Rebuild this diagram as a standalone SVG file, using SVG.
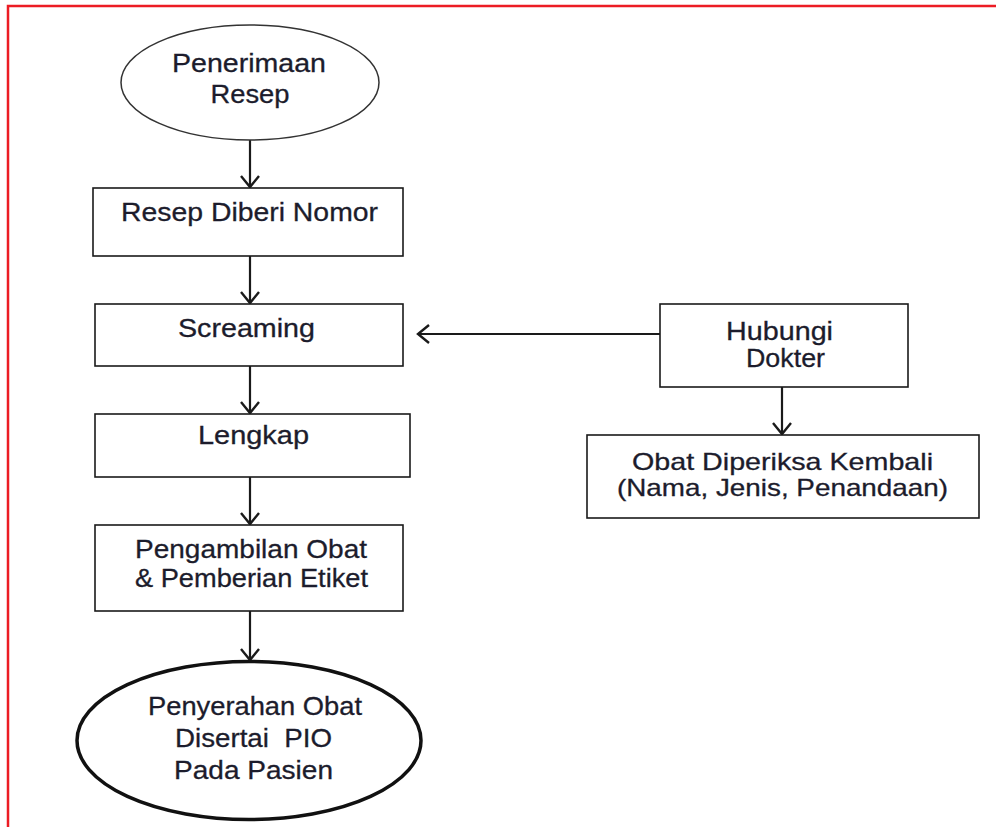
<svg xmlns="http://www.w3.org/2000/svg" width="996" height="827" viewBox="0 0 996 827">
<defs>
<marker id="arr" viewBox="0 0 14 20" refX="12" refY="10" markerWidth="14" markerHeight="20" markerUnits="userSpaceOnUse" orient="auto">
<path d="M1,1 L12,10 L1,19" fill="none" stroke="#1a1a1a" stroke-width="2.4"/>
</marker>
</defs>
<style>
.box{fill:#fff;stroke:#1a1a1a;stroke-width:1.6}
.t{font-family:"Liberation Sans",Arial,sans-serif;font-size:26px;fill:#1c1c2c;stroke:#1c1c2c;stroke-width:0.3;text-anchor:middle}
.s{font-size:24px}
.c{fill:none;stroke:#1a1a1a;stroke-width:2.2;marker-end:url(#arr)}
</style>
<rect x="0" y="0" width="996" height="827" fill="#fff"/>
<rect x="8" y="6" width="1000" height="900" fill="none" stroke="#ec1c24" stroke-width="2.5"/>
<g id="connectors">
<line class="c" x1="250" y1="140" x2="250" y2="187"/>
<line class="c" x1="250" y1="256" x2="250" y2="303"/>
<line class="c" x1="250" y1="366" x2="250" y2="413"/>
<line class="c" x1="250" y1="477" x2="250" y2="524"/>
<line class="c" x1="250" y1="611" x2="250" y2="660"/>
<line class="c" x1="660" y1="334" x2="418" y2="334"/>
<line class="c" x1="782" y1="387" x2="782" y2="434"/>
</g>
<g id="penerimaan-resep">
<ellipse cx="250" cy="82.5" rx="129" ry="57.5" fill="#fff" stroke="#333" stroke-width="1.5"/>
<text class="t" x="249" y="72" textLength="154" lengthAdjust="spacingAndGlyphs">Penerimaan</text>
<text class="t" x="250" y="103" textLength="79" lengthAdjust="spacingAndGlyphs">Resep</text>
</g>
<g id="resep-diberi-nomor">
<rect class="box" x="93" y="188" width="310" height="68"/>
<text class="t" x="249.5" y="221" textLength="257" lengthAdjust="spacingAndGlyphs">Resep Diberi Nomor</text>
</g>
<g id="screaming">
<rect class="box" x="95" y="304" width="308" height="62"/>
<text class="t" x="246.5" y="337" textLength="137" lengthAdjust="spacingAndGlyphs">Screaming</text>
</g>
<g id="lengkap">
<rect class="box" x="95" y="414" width="315" height="63"/>
<text class="t" x="253.5" y="444" textLength="111" lengthAdjust="spacingAndGlyphs">Lengkap</text>
</g>
<g id="pengambilan-obat">
<rect class="box" x="95" y="525" width="308" height="86"/>
<text class="t" x="251" y="558" textLength="232" lengthAdjust="spacingAndGlyphs">Pengambilan Obat</text>
<text class="t" x="251.5" y="587" textLength="233" lengthAdjust="spacingAndGlyphs">&amp; Pemberian Etiket</text>
</g>
<g id="penyerahan-obat">
<ellipse cx="249" cy="740.5" rx="172" ry="79" fill="#fff" stroke="#111" stroke-width="3.5"/>
<text class="t" x="255" y="715" textLength="214" lengthAdjust="spacingAndGlyphs">Penyerahan Obat</text>
<text class="t" x="253.5" y="747" textLength="157" lengthAdjust="spacingAndGlyphs" xml:space="preserve">Disertai  PIO</text>
<text class="t" x="253.5" y="779" textLength="159" lengthAdjust="spacingAndGlyphs">Pada Pasien</text>
</g>
<g id="hubungi-dokter">
<rect class="box" x="660" y="304" width="248" height="83"/>
<text class="t" x="779.5" y="340" textLength="107" lengthAdjust="spacingAndGlyphs">Hubungi</text>
<text class="t" x="785.5" y="367" textLength="79" lengthAdjust="spacingAndGlyphs">Dokter</text>
</g>
<g id="obat-diperiksa-kembali">
<rect class="box" x="587" y="435" width="392" height="83"/>
<text class="t s" x="782.5" y="470" textLength="301" lengthAdjust="spacingAndGlyphs">Obat Diperiksa Kembali</text>
<text class="t s" x="782.5" y="496" textLength="331" lengthAdjust="spacingAndGlyphs">(Nama, Jenis, Penandaan)</text>
</g>
</svg>
